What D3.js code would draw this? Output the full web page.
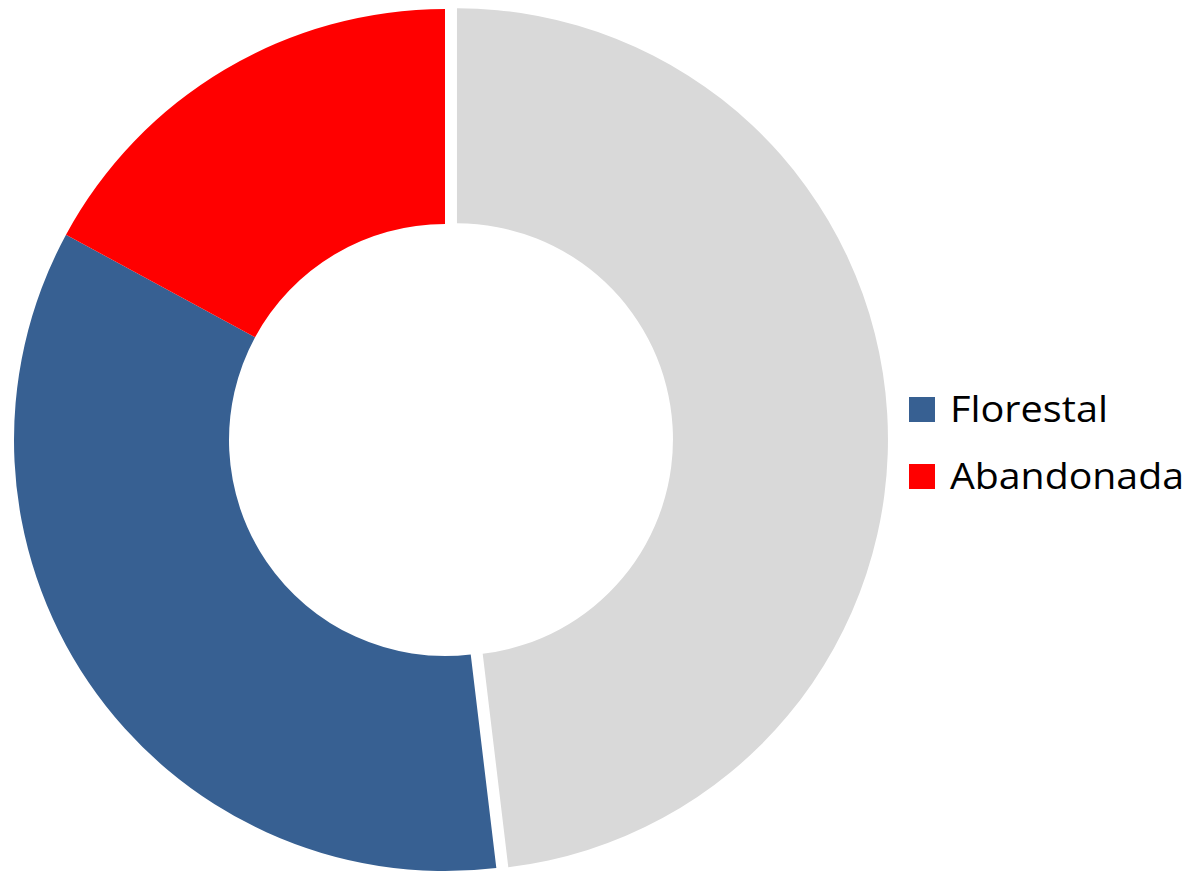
<!DOCTYPE html>
<html>
<head>
<meta charset="utf-8">
<script src="https://cdn.jsdelivr.net/npm/d3@7"></script>
<style>
  html, body { margin: 0; padding: 0; background: #ffffff; }
  svg { display: block; }
</style>
</head>
<body>
<svg id="chart" width="1195" height="873"></svg>
<script>
// Data (slices in clockwise order starting at 12 o'clock)
const categories = ["Outra", "Florestal", "Abandonada"];
const values = [48.1, 34.8, 17.1];
const colors = ["#D9D9D9", "#376092", "#FF0000"];
const legendCategories = ["Florestal", "Abandonada"];
const explodedCategory = "Outra";

const data = categories.map((c, i) => ({ name: c, value: values[i], color: colors[i] }));

const svg = d3.select("#chart");
const cx = 445, cy = 440;
const outerR = 431, innerR = 216, explode = 12;

const pie = d3.pie().sort(null).value(d => d.value);
const arc = d3.arc().innerRadius(innerR).outerRadius(outerR);

const g = svg.append("g").attr("transform", `translate(${cx},${cy})`);
g.selectAll("path")
  .data(pie(data))
  .join("path")
  .attr("d", arc)
  .attr("fill", d => d.data.color)
  .attr("transform", d => {
    if (d.data.name !== explodedCategory) return null;
    const mid = (d.startAngle + d.endAngle) / 2;
    return `translate(${Math.sin(mid) * explode},${-Math.cos(mid) * explode})`;
  });

// Legend
const legend = svg.append("g").attr("transform", "translate(909,397)");
const colorOf = name => data.find(d => d.name === name).color;
const item = legend.selectAll("g")
  .data(legendCategories)
  .join("g")
  .attr("transform", (d, i) => `translate(0,${i * 67})`);
item.append("rect")
  .attr("width", 26).attr("height", 25)
  .attr("fill", d => colorOf(d));
item.append("text")
  .attr("x", 41).attr("y", 25)
  .attr("font-family", "'Open Sans', sans-serif")
  .attr("font-size", 37)
  .attr("fill", "#000")
  .attr("textLength", d => d === "Florestal" ? 158 : 234)
  .attr("lengthAdjust", "spacingAndGlyphs")
  .text(d => d);
</script>
</body>
</html>
